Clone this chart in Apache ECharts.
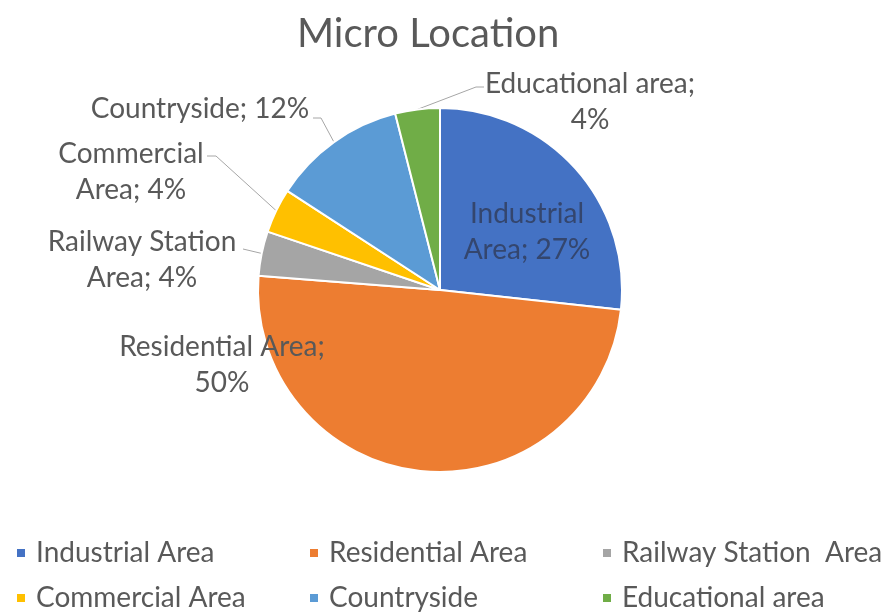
<!DOCTYPE html>
<html><head><meta charset="utf-8">
<script src="https://cdn.jsdelivr.net/npm/echarts@6/dist/echarts.min.js"></script>
<style>html,body{margin:0;padding:0;background:#fff}#c{width:887px;height:614px}</style>
</head><body><div id="c"></div>
<script>
const categories = ['Industrial Area','Residential Area','Railway Station Area','Commercial Area','Countryside','Educational area'];
const legendNames = ['Industrial Area','Residential Area','Railway Station  Area','Commercial Area','Countryside','Educational area'];
const values = [27, 50, 4, 4, 12, 4];
const colors = ['#4472C4','#ED7D31','#A5A5A5','#FFC000','#5B9BD5','#70AD47'];
const labelBreak = [1, 2, 2, 1, 0, 2];

// label placement (style)
const labelPos = [
  {x:527, y:232, line:null, color:'#34466e'},
  {x:222, y:365, line:null},
  {x:142, y:260, line:[[243,249]]},
  {x:131, y:172, line:[[216,156],[207,156]]},
  {x:200, y:109, line:[[321,118],[313,118]]},
  {x:590, y:102, line:[[476,87],[484,87]]}
];

function labelText(i){
  const t = categories[i] + '; ' + values[i] + '%';
  const w = t.split(' ');
  const k = labelBreak[i];
  if (!k) return t;
  return w.slice(0,k).join(' ') + '\n' + w.slice(k).join(' ');
}

const chart = echarts.init(document.getElementById('c'), null, {renderer:'canvas'});
const FONT = 'Lato';
chart.setOption({
  animation:false,
  title:{text:'Micro Location', left:292, top:9,
    textStyle:{fontFamily:FONT, fontSize:40, fontWeight:'normal', color:'#595959'}},
  legend:{
    data: categories, left:15, top:538, width:880, padding:0,
    itemWidth:10, itemHeight:10, itemGap:15, icon:'rect',
    formatter:function(n){return legendNames[categories.indexOf(n)];},
    textStyle:{fontFamily:FONT, fontSize:28, color:'#595959', width:257, lineHeight:30, padding:[0,0,0,5]}
  },
  series:[{
    type:'pie', center:[440,290], radius:182, startAngle:90, clockwise:true,
    avoidLabelOverlap:false,
    itemStyle:{borderColor:'#fff', borderWidth:2},
    label:{show:true, position:'outside', fontFamily:FONT, fontSize:28, lineHeight:36, color:'#595959', align:'center',
      formatter:function(p){return labelText(p.dataIndex);}},
    labelLine:{show:true, length:10, length2:10, lineStyle:{color:'#a6a6a6', width:1}},
    labelLayout:function(p){
      const c = labelPos[p.dataIndex];
      const r = {x:c.x, y:c.y, align:'center', verticalAlign:'middle'};
      if (c.line && p.labelLinePoints) {
        r.labelLinePoints = [p.labelLinePoints[0]].concat(c.line);
      }
      return r;
    },
    data: categories.map(function(n,i){
      const d = {name:n, value:values[i], itemStyle:{color:colors[i]}};
      if (labelPos[i].color) d.label = {color:labelPos[i].color};
      if (!labelPos[i].line) d.labelLine = {show:false};
      return d;
    })
  }]
});
</script></body></html>
